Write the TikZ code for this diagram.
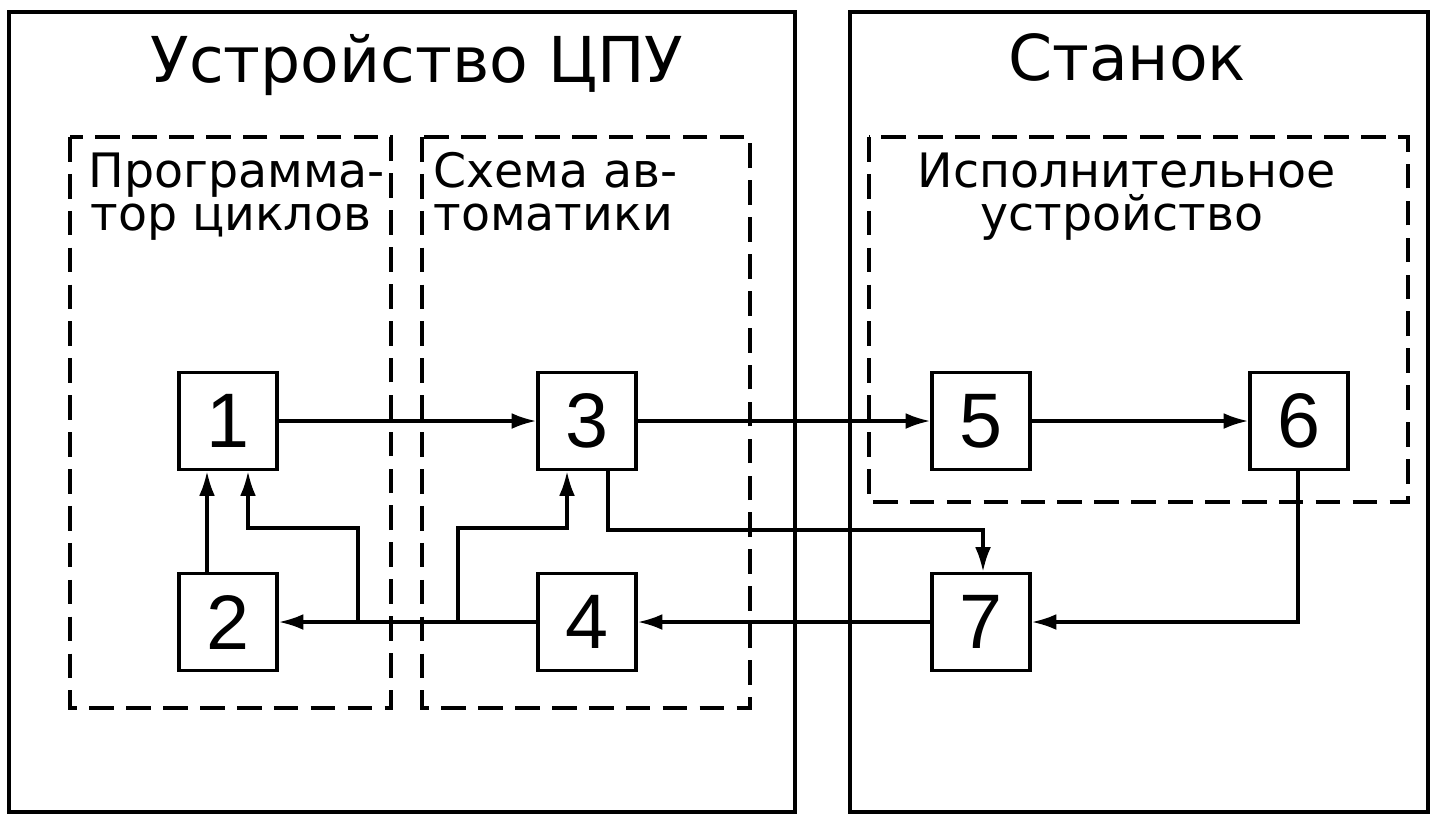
\documentclass[tikz,border=0pt]{standalone}
\usepackage{fontspec}
\setmainfont{DejaVu Sans}
\newfontfamily\digitfont{Liberation Sans}
\usetikzlibrary{arrows.meta}
\tikzset{
  outerbox/.style={draw, line width=1.8pt},
  groupbox/.style={draw, line width=2pt, dash pattern=on 14pt off 7pt},
  blockbox/.style={draw, line width=2pt, minimum width=1.96cm, minimum height=1.94cm, inner sep=0pt, font=\digitfont\fontsize{44}{44}\selectfont},
  conn/.style={line width=1.8pt},
  arr/.style={conn, -{Latex[length=14pt,width=9pt]}},
  maintitle/.style={font=\fontsize{36}{40}\selectfont, inner sep=0pt, anchor=base},
  grouplabel/.style={font=\fontsize{27}{30}\selectfont, inner sep=0pt, anchor=base west},
}
\begin{document}
\begin{tikzpicture}[x=0.02cm,y=-0.02cm]
\fill[white] (0,0) rectangle (1433,816);
\useasboundingbox (0,0) rectangle (1433,816);
% outer frames
\draw[outerbox] (9,12) rectangle (795,812);
\draw[outerbox] (850,12) rectangle (1428,812);
% groups
\draw[groupbox] (70,137) rectangle (391,708);
\draw[groupbox] (422,137) rectangle (750,708);
\draw[groupbox] (869,137) rectangle (1408,502);
% texts
\node[maintitle] (tcpu) at (417,82) {Устройство ЦПУ};
\node[maintitle] (tst) at (1127,80) {Станок};
\node[grouplabel] (l1a) at (88,187) {Программа-};
\node[grouplabel] (l1b) at (90,230) {тор циклов};
\node[grouplabel] (l2a) at (433,187) {Схема ав-};
\node[grouplabel] (l2b) at (433,230) {томатики};
\node[grouplabel, anchor=base] (l3a) at (1127,187) {Исполнительное};
\node[grouplabel, anchor=base] (l3b) at (1122,230) {устройство};
% blocks
\node[blockbox] (b1) at (228,421) {1};
\node[blockbox] (b2) at (228,622) {2};
\node[blockbox] (b3) at (587,421) {3};
\node[blockbox] (b4) at (587,622) {4};
\node[blockbox] (b5) at (981,421) {5};
\node[blockbox] (b6) at (1299,421) {6};
\node[blockbox] (b7) at (981,622) {7};
% connectors
\draw[arr] (b1.east) -- (b3.west);
\draw[arr] (b3.east) -- (b5.west);
\draw[arr] (b5.east) -- (b6.west);
\draw[arr] (b4.west) -- (b2.east);
\draw[arr] (b7.west) -- (b4.east);
\draw[arr] (b2.north -| 207,0) -- (b1.south -| 207,0);
\coordinate (j1) at (358,622);
\coordinate (k1) at (248,528);
\draw[arr] (j1) |- (k1) -- (k1 |- b1.south);
\coordinate (j2) at (458,622);
\coordinate (k2) at (567,528);
\draw[arr] (j2) |- (k2) -- (k2 |- b3.south);
\coordinate (k3) at (983,530);
\draw[arr] (b3.south -| 608,0) |- (k3) -- (k3 |- b7.north);
\coordinate (k4) at (1298,622);
\draw[arr] (b6.south -| k4) -- (k4) -- (b7.east);
\end{tikzpicture}
\end{document}
